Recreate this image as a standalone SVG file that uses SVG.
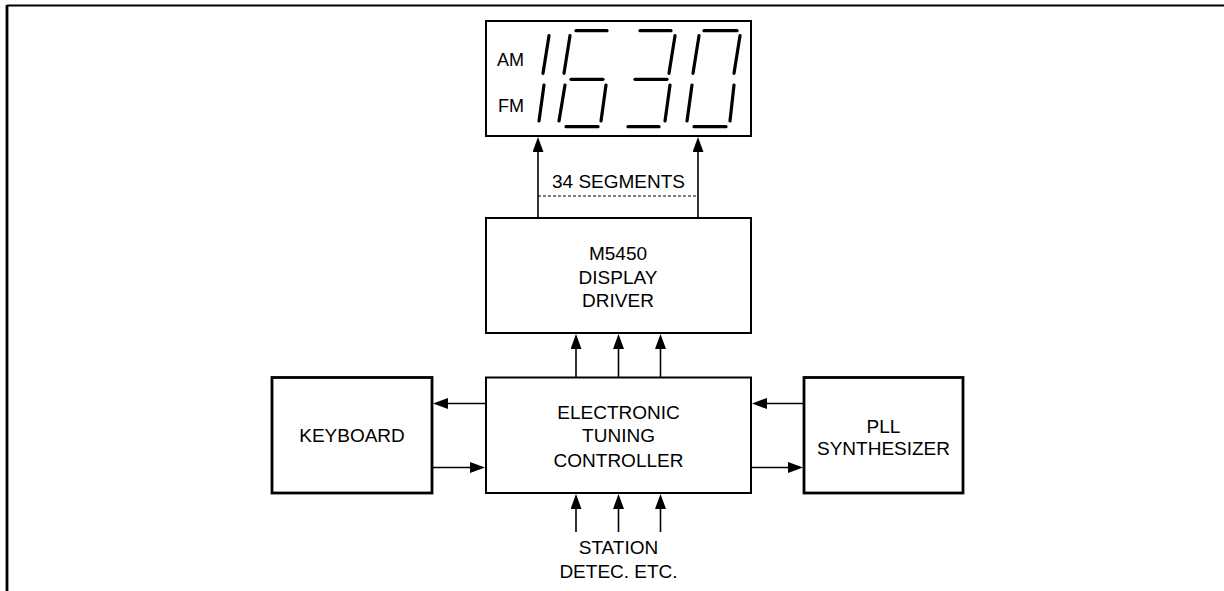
<svg xmlns="http://www.w3.org/2000/svg" width="1224" height="591" viewBox="0 0 1224 591">
<style>
.box{fill:#fff;stroke:#000;stroke-width:2}
.tbox{fill:#fff;stroke:#000;stroke-width:2.8}
.t{font-family:"Liberation Sans",Arial,sans-serif;font-size:19px;fill:#000;text-anchor:middle}
.ts{font-family:"Liberation Sans",Arial,sans-serif;font-size:18px;fill:#000}
.seg{stroke:#000;stroke-width:3.2;stroke-linecap:round;fill:none}
.w{stroke:#000;stroke-width:1.6;fill:none}
.arr{stroke:#000;stroke-width:1.6;fill:none;marker-end:url(#ah)}
</style>
<defs>
<marker id="ah" markerUnits="userSpaceOnUse" markerWidth="16" markerHeight="12" refX="7" refY="5.5" orient="auto">
<path d="M0,0 L15,5.5 L0,11 z" fill="#000"/>
</marker>
</defs>
<rect width="1224" height="591" fill="#fff"/>
<g id="frame">
<line x1="7" y1="5.5" x2="1224" y2="5.5" stroke="#000" stroke-width="2"/>
<line x1="7" y1="5" x2="7" y2="591" stroke="#000" stroke-width="2.8"/>
</g>
<g id="display">
<rect class="box" x="486" y="21" width="265" height="115"/>
<text class="ts" x="497" y="66">AM</text>
<text class="ts" x="498" y="112">FM</text>
<g class="seg">
<line x1="549" y1="35.7" x2="543" y2="73.3"/>
<line x1="544" y1="85" x2="539" y2="121"/>
<line x1="570" y1="35.7" x2="564" y2="73.3"/>
<line x1="576" y1="30.7" x2="607" y2="30.7"/>
<line x1="571" y1="79.3" x2="603" y2="79.3"/>
<line x1="565" y1="85" x2="559" y2="121"/>
<line x1="606" y1="85" x2="601" y2="121"/>
<line x1="566" y1="126.7" x2="598" y2="126.7"/>
<line x1="640" y1="30.7" x2="671" y2="30.7"/>
<line x1="675" y1="35.7" x2="669" y2="73.3"/>
<line x1="635" y1="79.3" x2="667" y2="79.3"/>
<line x1="670" y1="85" x2="665" y2="121"/>
<line x1="628" y1="126.7" x2="659" y2="126.7"/>
<line x1="699" y1="35.7" x2="693" y2="73.3"/>
<line x1="704" y1="30.7" x2="737" y2="30.7"/>
<line x1="740" y1="35.7" x2="734" y2="73.3"/>
<line x1="692" y1="85" x2="687" y2="121"/>
<line x1="734" y1="85" x2="730" y2="121"/>
<line x1="694" y1="126.7" x2="726" y2="126.7"/>
</g>
</g>
<g id="driver">
<rect class="box" x="486" y="218" width="265" height="115"/>
<text class="t" x="618" y="260">M5450</text>
<text class="t" x="618" y="283.5">DISPLAY</text>
<text class="t" x="618" y="307">DRIVER</text>
</g>
<g id="controller">
<rect class="box" x="486" y="377.5" width="265" height="115.5"/>
<text class="t" x="618.5" y="418.5">ELECTRONIC</text>
<text class="t" x="618.5" y="442">TUNING</text>
<text class="t" x="618.5" y="466.5">CONTROLLER</text>
</g>
<g id="keyboard">
<rect class="tbox" x="272" y="377.5" width="160" height="115.5"/>
<text class="t" x="352" y="441.5">KEYBOARD</text>
</g>
<g id="pll">
<rect class="tbox" x="804" y="377.5" width="159" height="115.5"/>
<text class="t" x="883.5" y="432.5">PLL</text>
<text class="t" x="883.5" y="455">SYNTHESIZER</text>
</g>
<g id="inputs">
<text class="t" x="618.5" y="553.5">STATION</text>
<text class="t" x="618.5" y="577.5">DETEC. ETC.</text>
</g>
<g id="connectors">
<line class="arr" x1="538" y1="217" x2="538" y2="145"/>
<line class="arr" x1="698" y1="217" x2="698" y2="145"/>
<line x1="538" y1="196" x2="698" y2="196" stroke="#000" stroke-width="1" stroke-dasharray="3,2"/>
<text class="t" x="618.5" y="188">34 SEGMENTS</text>
<line class="arr" x1="576" y1="377" x2="576" y2="342"/>
<line class="arr" x1="618.5" y1="377" x2="618.5" y2="342"/>
<line class="arr" x1="660.5" y1="377" x2="660.5" y2="342"/>
<line class="arr" x1="576" y1="532" x2="576" y2="502"/>
<line class="arr" x1="618.5" y1="532" x2="618.5" y2="502"/>
<line class="arr" x1="660.5" y1="532" x2="660.5" y2="502"/>
<line class="arr" x1="486" y1="403.5" x2="441" y2="403.5"/>
<line class="arr" x1="432" y1="467.5" x2="477" y2="467.5"/>
<line class="arr" x1="804" y1="403.5" x2="760" y2="403.5"/>
<line class="arr" x1="751" y1="467.5" x2="795" y2="467.5"/>
</g>
</svg>
